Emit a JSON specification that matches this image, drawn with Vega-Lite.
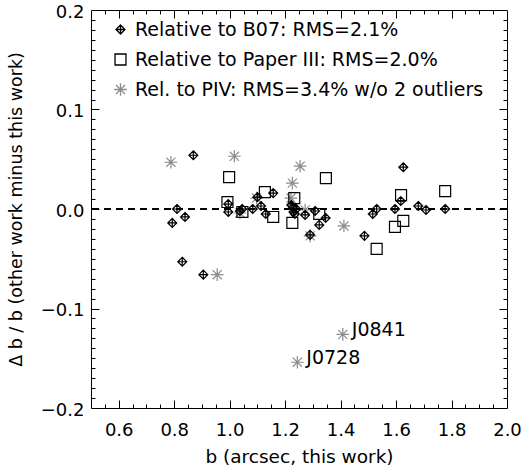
{
  "$schema": "https://vega.github.io/schema/vega-lite/v6.json",
  "width": 416,
  "height": 398,
  "autosize": {"type": "none"},
  "padding": {"left": 91, "top": 10, "right": 14, "bottom": 58},
  "config": {
    "view": {"stroke": "black", "strokeWidth": 1},
    "font": "DejaVu Sans",
    "axis": {"grid": false, "labelColor": "black", "titleColor": "black", "tickColor": "black", "domain": false, "labelFlush": false}
  },
  "datasets": {
    "pts": [
      {"series": "Rel. to PIV: RMS=3.4% w/o 2 outliers", "b": 0.788, "d": 0.047},
      {"series": "Rel. to PIV: RMS=3.4% w/o 2 outliers", "b": 0.955, "d": -0.066},
      {"series": "Rel. to PIV: RMS=3.4% w/o 2 outliers", "b": 1.017, "d": 0.053},
      {"series": "Rel. to PIV: RMS=3.4% w/o 2 outliers", "b": 1.037, "d": -0.004},
      {"series": "Rel. to PIV: RMS=3.4% w/o 2 outliers", "b": 1.097, "d": 0.011},
      {"series": "Rel. to PIV: RMS=3.4% w/o 2 outliers", "b": 1.221, "d": 0.011},
      {"series": "Rel. to PIV: RMS=3.4% w/o 2 outliers", "b": 1.226, "d": 0.026},
      {"series": "Rel. to PIV: RMS=3.4% w/o 2 outliers", "b": 1.254, "d": 0.043},
      {"series": "Rel. to PIV: RMS=3.4% w/o 2 outliers", "b": 1.272, "d": -0.001},
      {"series": "Rel. to PIV: RMS=3.4% w/o 2 outliers", "b": 1.290, "d": -0.027},
      {"series": "Rel. to PIV: RMS=3.4% w/o 2 outliers", "b": 1.412, "d": -0.017},
      {"series": "Rel. to PIV: RMS=3.4% w/o 2 outliers", "b": 1.408, "d": -0.126, "label": "J0841"},
      {"series": "Rel. to PIV: RMS=3.4% w/o 2 outliers", "b": 1.244, "d": -0.154, "label": "J0728"},
      {"series": "Relative to Paper III: RMS=2.0%", "b": 0.998, "d": 0.032},
      {"series": "Relative to Paper III: RMS=2.0%", "b": 0.992, "d": 0.007},
      {"series": "Relative to Paper III: RMS=2.0%", "b": 1.046, "d": -0.003},
      {"series": "Relative to Paper III: RMS=2.0%", "b": 1.127, "d": 0.017},
      {"series": "Relative to Paper III: RMS=2.0%", "b": 1.157, "d": -0.008},
      {"series": "Relative to Paper III: RMS=2.0%", "b": 1.226, "d": -0.014},
      {"series": "Relative to Paper III: RMS=2.0%", "b": 1.233, "d": 0.011},
      {"series": "Relative to Paper III: RMS=2.0%", "b": 1.323, "d": -0.005},
      {"series": "Relative to Paper III: RMS=2.0%", "b": 1.347, "d": 0.031},
      {"series": "Relative to Paper III: RMS=2.0%", "b": 1.530, "d": -0.040},
      {"series": "Relative to Paper III: RMS=2.0%", "b": 1.596, "d": -0.018},
      {"series": "Relative to Paper III: RMS=2.0%", "b": 1.618, "d": 0.014},
      {"series": "Relative to Paper III: RMS=2.0%", "b": 1.626, "d": -0.012},
      {"series": "Relative to Paper III: RMS=2.0%", "b": 1.777, "d": 0.018},
      {"series": "Relative to B07: RMS=2.1%", "b": 0.793, "d": -0.014},
      {"series": "Relative to B07: RMS=2.1%", "b": 0.810, "d": 0.000},
      {"series": "Relative to B07: RMS=2.1%", "b": 0.839, "d": -0.008},
      {"series": "Relative to B07: RMS=2.1%", "b": 0.869, "d": 0.054},
      {"series": "Relative to B07: RMS=2.1%", "b": 0.829, "d": -0.053},
      {"series": "Relative to B07: RMS=2.1%", "b": 0.905, "d": -0.066},
      {"series": "Relative to B07: RMS=2.1%", "b": 0.995, "d": 0.005},
      {"series": "Relative to B07: RMS=2.1%", "b": 0.995, "d": -0.003},
      {"series": "Relative to B07: RMS=2.1%", "b": 1.037, "d": -0.002},
      {"series": "Relative to B07: RMS=2.1%", "b": 1.045, "d": 0.000},
      {"series": "Relative to B07: RMS=2.1%", "b": 1.083, "d": 0.000},
      {"series": "Relative to B07: RMS=2.1%", "b": 1.100, "d": 0.012},
      {"series": "Relative to B07: RMS=2.1%", "b": 1.113, "d": 0.003},
      {"series": "Relative to B07: RMS=2.1%", "b": 1.130, "d": -0.005},
      {"series": "Relative to B07: RMS=2.1%", "b": 1.157, "d": 0.016},
      {"series": "Relative to B07: RMS=2.1%", "b": 1.222, "d": 0.004},
      {"series": "Relative to B07: RMS=2.1%", "b": 1.228, "d": 0.001},
      {"series": "Relative to B07: RMS=2.1%", "b": 1.230, "d": -0.003},
      {"series": "Relative to B07: RMS=2.1%", "b": 1.235, "d": -0.005},
      {"series": "Relative to B07: RMS=2.1%", "b": 1.240, "d": 0.000},
      {"series": "Relative to B07: RMS=2.1%", "b": 1.272, "d": -0.006},
      {"series": "Relative to B07: RMS=2.1%", "b": 1.290, "d": -0.026},
      {"series": "Relative to B07: RMS=2.1%", "b": 1.308, "d": -0.002},
      {"series": "Relative to B07: RMS=2.1%", "b": 1.323, "d": -0.016},
      {"series": "Relative to B07: RMS=2.1%", "b": 1.346, "d": -0.009},
      {"series": "Relative to B07: RMS=2.1%", "b": 1.486, "d": -0.027},
      {"series": "Relative to B07: RMS=2.1%", "b": 1.516, "d": -0.005},
      {"series": "Relative to B07: RMS=2.1%", "b": 1.530, "d": 0.000},
      {"series": "Relative to B07: RMS=2.1%", "b": 1.596, "d": 0.000},
      {"series": "Relative to B07: RMS=2.1%", "b": 1.617, "d": 0.008},
      {"series": "Relative to B07: RMS=2.1%", "b": 1.626, "d": 0.042},
      {"series": "Relative to B07: RMS=2.1%", "b": 1.680, "d": 0.003},
      {"series": "Relative to B07: RMS=2.1%", "b": 1.708, "d": -0.001},
      {"series": "Relative to B07: RMS=2.1%", "b": 1.777, "d": 0.000}
    ]
  },
  "data": {"name": "pts"},
  "layer": [
    {
      "mark": {"type": "rule", "stroke": "black", "strokeWidth": 1, "strokeDash": [7, 5]},
      "encoding": {"y": {"datum": 0, "type": "quantitative", "scale": {"domain": [-0.2, 0.2], "nice": false, "zero": false}, "axis": null}}
    },
    {
      "mark": {"type": "point", "filled": false, "strokeWidth": 1.2, "opacity": 1},
      "encoding": {
        "x": {"field": "b", "type": "quantitative", "scale": {"domain": [0.5, 2.0], "nice": false, "zero": false},
          "axis": {"orient": "bottom", "values": [0.6, 0.8, 1.0, 1.2, 1.4, 1.6, 1.8, 2.0], "format": ".1f", "ticks": false, "labelFontSize": 18, "labelPadding": 13, "title": "b (arcsec, this work)", "titleFontSize": 18.5, "titleFontWeight": "normal", "titlePadding": 8}},
        "y": {"field": "d", "type": "quantitative", "scale": {"domain": [-0.2, 0.2], "nice": false, "zero": false},
          "axis": {"orient": "left", "values": [-0.2, -0.1, 0, 0.1, 0.2], "format": ".1f", "ticks": false, "labelFontSize": 18, "labelPadding": 7, "labelOffset": 2, "title": "Δ b / b (other work minus this work)", "titleFontSize": 17.5, "titleFontWeight": "normal", "titlePadding": 15}},
        "color": {"field": "series", "type": "nominal",
          "scale": {"domain": ["Relative to B07: RMS=2.1%", "Relative to Paper III: RMS=2.0%", "Rel. to PIV: RMS=3.4% w/o 2 outliers"], "range": ["black", "black", "#8c8c8c"]},
          "legend": {"orient": "none", "legendX": 20, "legendY": 10, "title": null, "labelFontSize": 19, "labelFont": "DejaVu Sans", "labelColor": "black", "labelLimit": 500, "rowPadding": 10, "labelOffset": 5, "symbolStrokeWidth": 1.3, "padding": 0}},
        "shape": {"field": "series", "type": "nominal",
          "scale": {"domain": ["Relative to B07: RMS=2.1%", "Relative to Paper III: RMS=2.0%", "Rel. to PIV: RMS=3.4% w/o 2 outliers"], "range": ["M0,-1L1,0L0,1L-1,0Z M0,-1L0,1 M-1,0L1,0", "square", "M-1,0L1,0 M0,-1L0,1 M-0.72,-0.72L0.72,0.72 M-0.72,0.72L0.72,-0.72"]}},
        "size": {"field": "series", "type": "nominal",
          "scale": {"domain": ["Relative to B07: RMS=2.1%", "Relative to Paper III: RMS=2.0%", "Rel. to PIV: RMS=3.4% w/o 2 outliers"], "range": [80, 160, 180]}}
      }
    },
    {
      "mark": {"type": "point", "opacity": 0},
      "encoding": {
        "x": {"field": "b", "type": "quantitative", "scale": {"domain": [0.5, 2.0], "nice": false, "zero": false},
          "axis": {"orient": "bottom", "values": [0.6, 0.8, 1.0, 1.2, 1.4, 1.6, 1.8], "labels": false, "ticks": true, "tickSize": -8, "title": null}},
        "y": {"field": "d", "type": "quantitative", "scale": {"domain": [-0.2, 0.2], "nice": false, "zero": false},
          "axis": {"orient": "left", "values": [-0.1, 0, 0.1], "labels": false, "ticks": true, "tickSize": -8, "title": null}}
      }
    },
    {
      "mark": {"type": "point", "opacity": 0},
      "encoding": {
        "x": {"field": "b", "type": "quantitative", "scale": {"domain": [0.5, 2.0], "nice": false, "zero": false},
          "axis": {"orient": "bottom", "values": [0.55, 0.65, 0.7, 0.75, 0.85, 0.9, 0.95, 1.05, 1.1, 1.15, 1.25, 1.3, 1.35, 1.45, 1.5, 1.55, 1.65, 1.7, 1.75, 1.85, 1.9, 1.95], "labels": false, "ticks": true, "tickSize": -4, "title": null}},
        "y": {"field": "d", "type": "quantitative", "scale": {"domain": [-0.2, 0.2], "nice": false, "zero": false},
          "axis": {"orient": "left", "values": [-0.19, -0.18, -0.17, -0.16, -0.15, -0.14, -0.13, -0.12, -0.11, -0.09, -0.08, -0.07, -0.06, -0.05, -0.04, -0.03, -0.02, -0.01, 0.01, 0.02, 0.03, 0.04, 0.05, 0.06, 0.07, 0.08, 0.09, 0.11, 0.12, 0.13, 0.14, 0.15, 0.16, 0.17, 0.18, 0.19], "labels": false, "ticks": true, "tickSize": -4, "title": null}}
      }
    },
    {
      "mark": {"type": "point", "opacity": 0},
      "encoding": {
        "x": {"field": "b", "type": "quantitative", "scale": {"domain": [0.5, 2.0], "nice": false, "zero": false},
          "axis": {"orient": "top", "values": [0.6, 0.8, 1.0, 1.2, 1.4, 1.6, 1.8], "labels": false, "ticks": true, "tickSize": -8, "title": null}},
        "y": {"field": "d", "type": "quantitative", "scale": {"domain": [-0.2, 0.2], "nice": false, "zero": false},
          "axis": {"orient": "right", "values": [-0.1, 0, 0.1], "labels": false, "ticks": true, "tickSize": -8, "title": null}}
      }
    },
    {
      "mark": {"type": "point", "opacity": 0},
      "encoding": {
        "x": {"field": "b", "type": "quantitative", "scale": {"domain": [0.5, 2.0], "nice": false, "zero": false},
          "axis": {"orient": "top", "values": [0.55, 0.65, 0.7, 0.75, 0.85, 0.9, 0.95, 1.05, 1.1, 1.15, 1.25, 1.3, 1.35, 1.45, 1.5, 1.55, 1.65, 1.7, 1.75, 1.85, 1.9, 1.95], "labels": false, "ticks": true, "tickSize": -4, "title": null}},
        "y": {"field": "d", "type": "quantitative", "scale": {"domain": [-0.2, 0.2], "nice": false, "zero": false},
          "axis": {"orient": "right", "values": [-0.19, -0.18, -0.17, -0.16, -0.15, -0.14, -0.13, -0.12, -0.11, -0.09, -0.08, -0.07, -0.06, -0.05, -0.04, -0.03, -0.02, -0.01, 0.01, 0.02, 0.03, 0.04, 0.05, 0.06, 0.07, 0.08, 0.09, 0.11, 0.12, 0.13, 0.14, 0.15, 0.16, 0.17, 0.18, 0.19], "labels": false, "ticks": true, "tickSize": -4, "title": null}}
      }
    },
    {
      "transform": [{"filter": "datum.label != null"}],
      "mark": {"type": "text", "align": "left", "baseline": "middle", "dx": 9, "dy": -4, "fontSize": 19, "color": "black", "font": "DejaVu Sans"},
      "encoding": {
        "x": {"field": "b", "type": "quantitative", "scale": {"domain": [0.5, 2.0], "nice": false, "zero": false}, "axis": null},
        "y": {"field": "d", "type": "quantitative", "scale": {"domain": [-0.2, 0.2], "nice": false, "zero": false}, "axis": null},
        "text": {"field": "label"}
      }
    }
  ],
  "resolve": {"axis": {"x": "independent", "y": "independent"}}
}
